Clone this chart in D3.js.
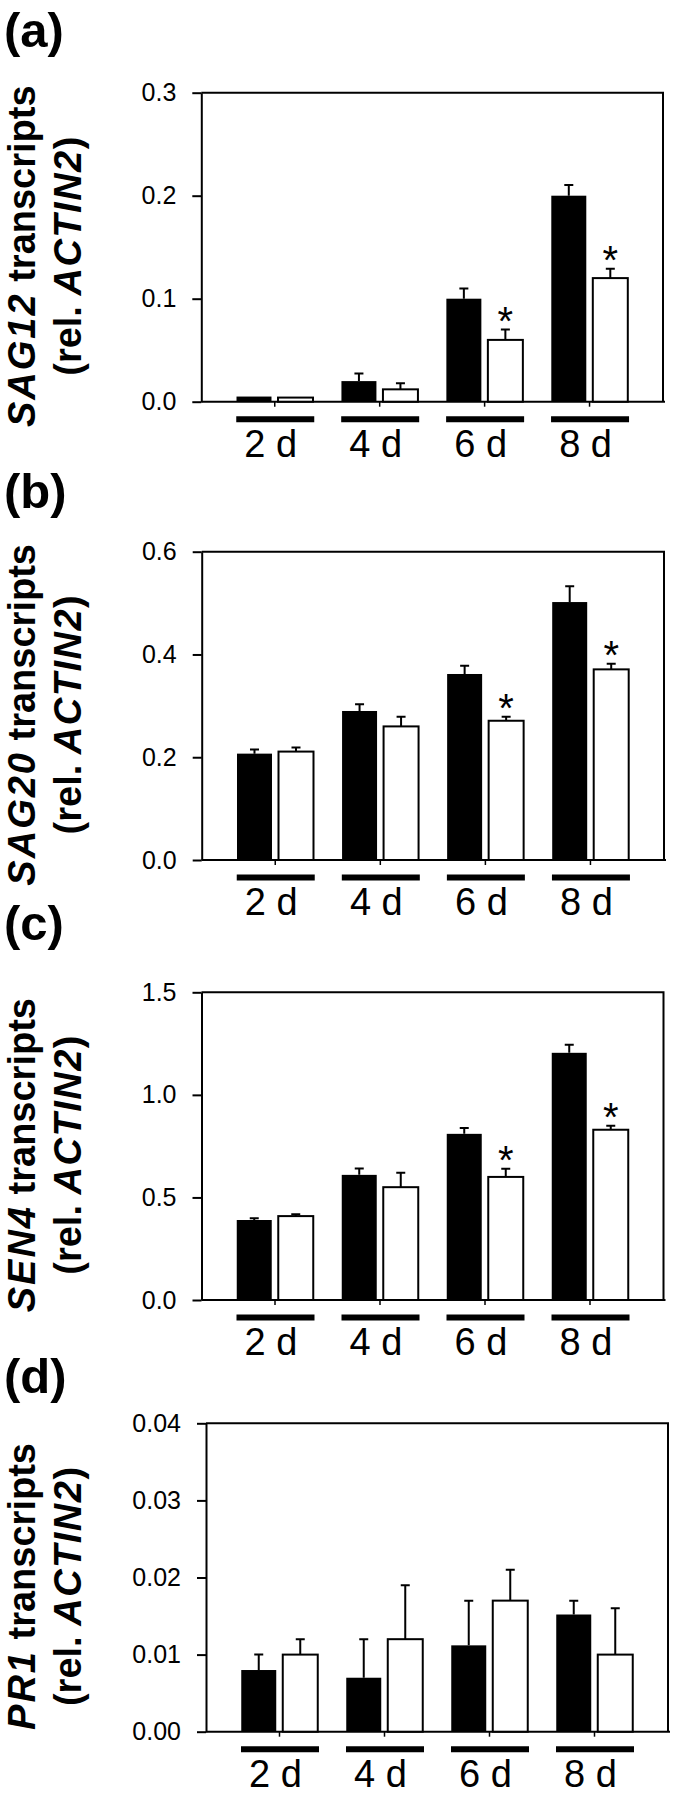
<!DOCTYPE html>
<html><head><meta charset="utf-8">
<script src="https://cdn.jsdelivr.net/npm/d3@7"></script>
<style>
body{margin:0;background:#fff}
text{font-family:"Liberation Sans",Arial,sans-serif;fill:#000}
</style>
</head><body><svg id="c" width="675" height="1794"></svg>
<script>
// ---- data ----
const days = ["2 d","4 d","6 d","8 d"];
const panelLetters = ["(a)","(b)","(c)","(d)"];
const genes = ["SAG12","SAG20","SEN4","PR1"];

const ticksA = [0,0.1,0.2,0.3];
const ticksB = [0,0.2,0.4,0.6];
const ticksC = [0,0.5,1.0,1.5];
const ticksD = [0,0.01,0.02,0.03,0.04];

const sag12Black    = [0.005,0.020,0.100,0.200];
const sag12BlackErr = [0,    0.0075,0.010,0.0105];
const sag12White    = [0.004,0.012,0.060,0.120];
const sag12WhiteErr = [0,    0.0058,0.010,0.009];
const sag12Sig      = [false,false,true,true];

const sag20Black    = [0.207,0.290,0.362,0.502];
const sag20BlackErr = [0.008,0.013,0.016,0.031];
const sag20White    = [0.211,0.260,0.271,0.371];
const sag20WhiteErr = [0.008,0.019,0.008,0.011];
const sag20Sig      = [false,false,true,true];

const sen4Black     = [0.390,0.610,0.810,1.205];
const sen4BlackErr  = [0.008,0.031,0.029,0.039];
const sen4White     = [0.409,0.550,0.600,0.830];
const sen4WhiteErr  = [0.009,0.070,0.040,0.020];
const sen4Sig       = [false,false,true,true];

const pr1Black      = [0.008,0.007,0.0112,0.0152];
const pr1BlackErr   = [0.002,0.005,0.0058,0.0018];
const pr1White      = [0.010,0.012,0.017,0.010];
const pr1WhiteErr   = [0.002,0.007,0.004,0.006];
const pr1Sig        = [false,false,false,false];

// ---- layout ----
const panels = [
  {ticks:ticksA, fmt:".1f", black:sag12Black, bErr:sag12BlackErr, white:sag12White, wErr:sag12WhiteErr, sig:sag12Sig,
   top:92.7, bottom:401.7, left:201.3, right:663, letterY:47},
  {ticks:ticksB, fmt:".1f", black:sag20Black, bErr:sag20BlackErr, white:sag20White, wErr:sag20WhiteErr, sig:sag20Sig,
   top:551.7, bottom:860, left:201.7, right:664, letterY:508},
  {ticks:ticksC, fmt:".1f", black:sen4Black, bErr:sen4BlackErr, white:sen4White, wErr:sen4WhiteErr, sig:sen4Sig,
   top:992.3, bottom:1300, left:201.5, right:663.5, letterY:940},
  {ticks:ticksD, fmt:".2f", black:pr1Black, bErr:pr1BlackErr, white:pr1White, wErr:pr1WhiteErr, sig:pr1Sig,
   top:1423.3, bottom:1731.7, left:206, right:668, letterY:1393}
];

const svg = d3.select("#c");

panels.forEach((p, i) => {
  const g = svg.append("g");
  const y = d3.scaleLinear().domain([0, d3.max(p.ticks)]).range([p.bottom, p.top]);
  const x = d3.scaleBand().domain(days).range([p.left, p.right]).paddingInner(0).paddingOuter(0.2);
  const sub = d3.scaleBand().domain(["black","white"]).range([-38.25, 38.25]).paddingInner(0.157);

  // frame (top & right)
  g.append("path")
    .attr("d", `M${p.left},${p.top}H${p.right}V${p.bottom}`)
    .attr("fill","none").attr("stroke","#000").attr("stroke-width",2);

  // y axis
  const ya = g.append("g").attr("transform",`translate(${p.left},0)`)
    .call(d3.axisLeft(y).tickValues(p.ticks).tickSize(9).tickSizeOuter(0).tickPadding(16).tickFormat(d3.format(p.fmt)));
  ya.select(".domain").attr("stroke-width",2);
  ya.selectAll(".tick line").attr("stroke-width",2);
  ya.selectAll(".tick text").attr("font-size",25).attr("font-family",'"Liberation Sans",Arial,sans-serif').attr("fill","#111");

  // x axis (group ticks)
  const xa = g.append("g").attr("transform",`translate(0,${p.bottom})`)
    .call(d3.axisBottom(x).tickSize(5).tickSizeOuter(0).tickFormat(""));
  xa.select(".domain").attr("stroke-width",2).attr("d",`M${p.left},0H${p.right+2}`);
  xa.selectAll(".tick line").attr("stroke-width",1.5);

  const rows = days.map((d, k) => ({d, b:p.black[k], be:p.bErr[k], w:p.white[k], we:p.wErr[k], s:p.sig[k]}));

  // black bars
  g.selectAll(".bb").data(rows).join("rect")
    .attr("x", r => x(r.d) + x.bandwidth()/2 + sub("black"))
    .attr("y", r => y(r.b))
    .attr("width", sub.bandwidth())
    .attr("height", r => p.bottom - y(r.b))
    .attr("fill","#000");
  // white bars
  g.selectAll(".wb").data(rows).join("rect")
    .attr("x", r => x(r.d) + x.bandwidth()/2 + sub("white"))
    .attr("y", r => y(r.w))
    .attr("width", sub.bandwidth())
    .attr("height", r => p.bottom - y(r.w))
    .attr("fill","#fff").attr("stroke","#000").attr("stroke-width",2);

  // error bars
  const errs = [];
  rows.forEach(r => {
    if (r.be > 0) errs.push({cx: x(r.d) + x.bandwidth()/2 + sub("black") + sub.bandwidth()/2, v:r.b, e:r.be});
    if (r.we > 0) errs.push({cx: x(r.d) + x.bandwidth()/2 + sub("white") + sub.bandwidth()/2, v:r.w, e:r.we});
  });
  g.selectAll(".err").data(errs).join("path")
    .attr("d", e => `M${e.cx},${y(e.v)}V${y(e.v+e.e)}M${e.cx-4.5},${y(e.v+e.e)}H${e.cx+4.5}`)
    .attr("fill","none").attr("stroke","#000").attr("stroke-width",2);

  // significance stars
  g.selectAll(".star").data(rows.filter(r => r.s)).join("text")
    .attr("x", r => x(r.d) + x.bandwidth()/2 + sub("white") + sub.bandwidth()/2)
    .attr("y", r => y(r.w + r.we) + 5)
    .attr("text-anchor","middle").attr("font-size",40)
    .text("*");

  // underbars
  g.selectAll(".ub").data(days).join("line")
    .attr("x1", d => x(d) + x.bandwidth()/2 - 38.5)
    .attr("x2", d => x(d) + x.bandwidth()/2 + 39.5)
    .attr("y1", p.bottom + 17.5).attr("y2", p.bottom + 17.5)
    .attr("stroke","#000").attr("stroke-width",6);

  // day labels
  g.selectAll(".dl").data(days).join("text")
    .attr("x", d => x(d) + x.bandwidth()/2 - 4)
    .attr("y", p.bottom + 55)
    .attr("text-anchor","middle").attr("font-size",38)
    .text(d => d);

  // y title
  const cy = (p.top + p.bottom)/2 + 9;
  const t1 = g.append("text").attr("transform",`translate(35,${cy}) rotate(-90)`)
    .attr("text-anchor","middle").attr("font-size",38).attr("font-weight","bold");
  t1.append("tspan").attr("font-style","italic").attr("letter-spacing",2).text(genes[i]);
  t1.append("tspan").text(" transcripts");
  const t2 = g.append("text").attr("transform",`translate(81,${cy}) rotate(-90)`)
    .attr("text-anchor","middle").attr("font-size",38).attr("font-weight","bold");
  t2.append("tspan").text("(rel. ");
  t2.append("tspan").attr("font-style","italic").attr("letter-spacing",1.5).text("ACTIN2");
  t2.append("tspan").text(")");

  // panel letter
  g.append("text").attr("x",4).attr("y",p.letterY)
    .attr("font-size",49).attr("font-weight","bold").text(panelLetters[i]);
});
</script>
</body></html>
